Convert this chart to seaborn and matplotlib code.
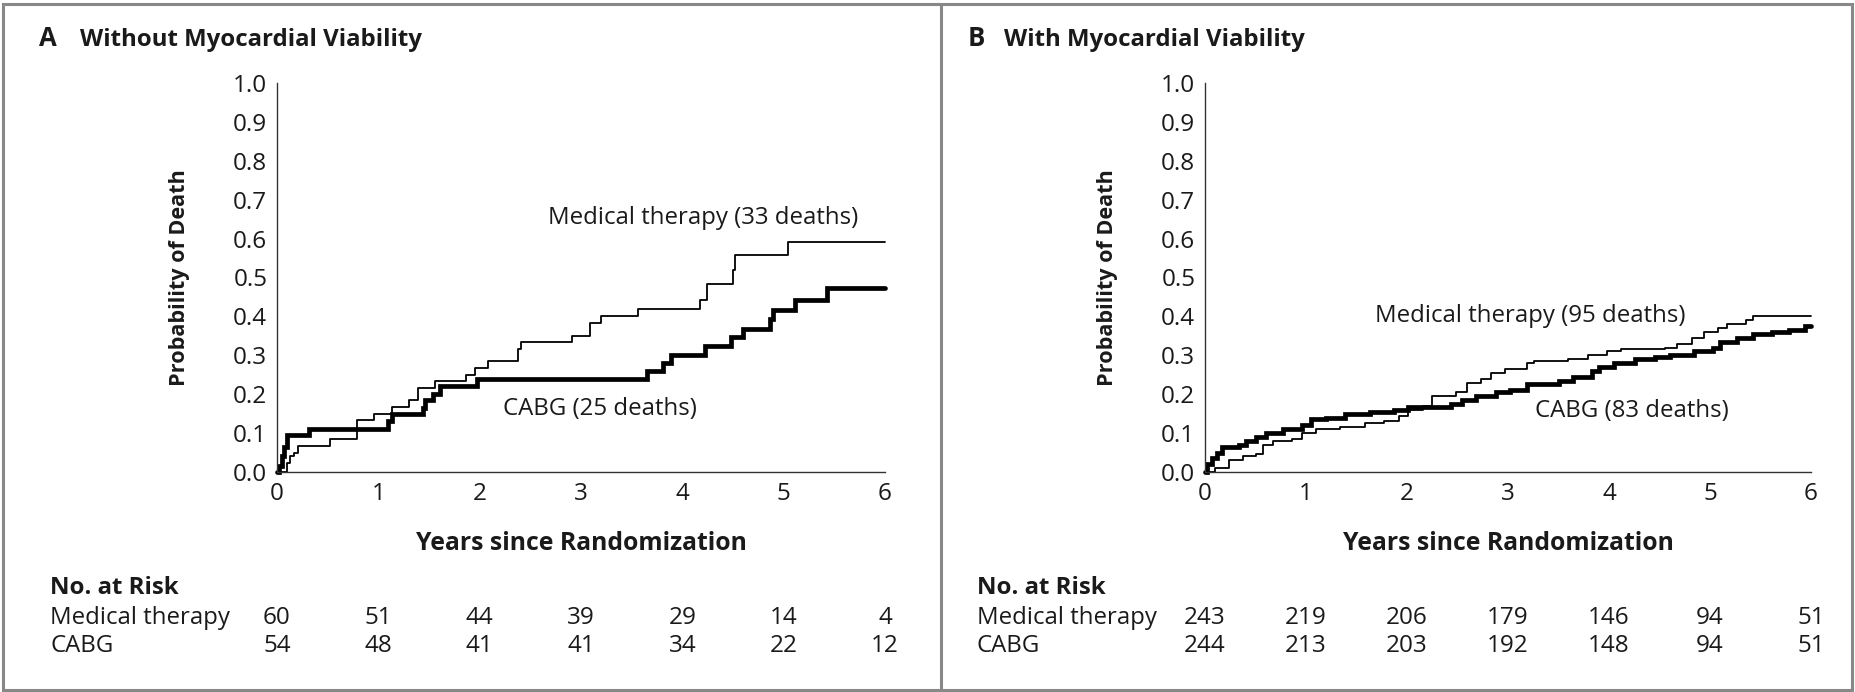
import matplotlib
matplotlib.use("Agg")
import matplotlib.pyplot as plt
import matplotlib.transforms as mtrans
from matplotlib.patches import Rectangle
from matplotlib.lines import Line2D
import seaborn as sns
import pandas as pd

# ---------------- data ----------------
years = [0, 1, 2, 3, 4, 5, 6]
yticks = [0.0, 0.1, 0.2, 0.3, 0.4, 0.5, 0.6, 0.7, 0.8, 0.9, 1.0]

# Panel A: without viability
a_med_t = [0, 0.10, 0.13, 0.17, 0.21, 0.52, 0.79, 0.96, 1.13, 1.30, 1.39, 1.56, 1.87, 1.95, 2.08,
           2.38, 2.41, 2.91, 3.09, 3.20, 3.56, 4.17, 4.24, 4.50, 4.52, 5.04, 6.0]
a_med_p = [0, 0.023, 0.040, 0.049, 0.067, 0.085, 0.134, 0.150, 0.167, 0.185, 0.216, 0.233, 0.250, 0.268, 0.285,
           0.316, 0.333, 0.350, 0.383, 0.400, 0.419, 0.441, 0.484, 0.520, 0.558, 0.591, 0.591]
a_cabg_t = [0, 0.02, 0.05, 0.07, 0.10, 0.32, 1.10, 1.13, 1.44, 1.46, 1.54, 1.61, 1.97, 3.65, 3.81,
            3.89, 4.22, 4.48, 4.60, 4.87, 4.89, 5.11, 5.43, 6.0]
a_cabg_p = [0, 0.015, 0.040, 0.065, 0.095, 0.110, 0.130, 0.150, 0.165, 0.185, 0.200, 0.220, 0.239, 0.260, 0.280,
            0.300, 0.323, 0.346, 0.368, 0.393, 0.417, 0.443, 0.473, 0.473]

# Panel B: with viability
b_med_t = [0, 0.10, 0.24, 0.38, 0.50, 0.57, 0.67, 0.86, 0.96, 1.10, 1.34, 1.58, 1.77, 1.92, 2.01, 2.16,
           2.25, 2.49, 2.59, 2.73, 2.83, 2.97, 3.19, 3.26, 3.59, 3.79, 3.98, 4.12, 4.55, 4.67, 4.82,
           4.94, 5.08, 5.17, 5.36, 5.43, 6.0]
b_med_p = [0, 0.010, 0.030, 0.040, 0.045, 0.070, 0.080, 0.085, 0.100, 0.110, 0.115, 0.125, 0.130, 0.145, 0.160, 0.170,
           0.195, 0.205, 0.230, 0.240, 0.255, 0.265, 0.280, 0.285, 0.290, 0.300, 0.310, 0.315, 0.320, 0.330, 0.345,
           0.360, 0.370, 0.380, 0.390, 0.400, 0.400]
b_cabg_t = [0, 0.02, 0.07, 0.12, 0.17, 0.34, 0.41, 0.50, 0.60, 0.77, 0.96, 1.05, 1.20, 1.39, 1.63, 1.87,
            2.01, 2.44, 2.54, 2.68, 2.88, 3.02, 3.19, 3.50, 3.64, 3.83, 3.90, 4.05, 4.26, 4.46, 4.60,
            4.84, 5.03, 5.10, 5.27, 5.43, 5.61, 5.78, 5.94, 6.0]
b_cabg_p = [0, 0.020, 0.035, 0.050, 0.065, 0.070, 0.080, 0.090, 0.100, 0.110, 0.120, 0.135, 0.140, 0.148, 0.155, 0.160,
            0.168, 0.175, 0.185, 0.195, 0.205, 0.210, 0.225, 0.235, 0.245, 0.260, 0.270, 0.280, 0.290, 0.295, 0.300,
            0.310, 0.320, 0.335, 0.345, 0.355, 0.360, 0.365, 0.375, 0.375]

a_risk_med = [60, 51, 44, 39, 29, 14, 4]
a_risk_cabg = [54, 48, 41, 41, 34, 22, 12]
b_risk_med = [243, 219, 206, 179, 146, 94, 51]
b_risk_cabg = [244, 213, 203, 192, 148, 94, 51]

panel_letters = ["A", "B"]
panel_titles = ["Without Myocardial Viability", "With Myocardial Viability"]
med_labels = ["Medical therapy (33 deaths)", "Medical therapy (95 deaths)"]
cabg_labels = ["CABG (25 deaths)", "CABG (83 deaths)"]
row_names = ["Medical therapy", "CABG"]

# ---------------- style ----------------
sns.set_style("white")
FONT = ["Open Sans", "DejaVu Sans"]
plt.rcParams["font.family"] = FONT
TXT = "#1a1a1a"
FS = 17.3        # regular text
FS_N = 17.5      # risk numbers
FS_T = 17.5      # tick labels

W, H = 1855, 692
fig = plt.figure(figsize=(W / 100, H / 100), dpi=100)


def fx(px):
    return px / W


def fy(py):
    return 1 - py / H


# borders
border_col = "#888888"
fig.add_artist(Rectangle((fx(3), fy(690)), fx(1852) - fx(3), fy(4) - fy(690), transform=fig.transFigure,
                         fill=False, edgecolor=border_col, linewidth=2.2))
fig.add_artist(Line2D([fx(941), fx(941)], [fy(4), fy(690)], transform=fig.transFigure,
                      color=border_col, linewidth=2.2))

panels = [
    dict(left=277, right=885, med=(a_med_t, a_med_p), cabg=(a_cabg_t, a_cabg_p),
         rmed=a_risk_med, rcabg=a_risk_cabg, letter_x=39, title_x=80, ylab_x=180, table_x=50,
         med_xy=(2.67, 0.653), cabg_xy=(2.23, 0.161)),
    dict(left=1205, right=1811, med=(b_med_t, b_med_p), cabg=(b_cabg_t, b_cabg_p),
         rmed=b_risk_med, rcabg=b_risk_cabg, letter_x=968, title_x=1004, ylab_x=1108, table_x=977,
         med_xy=(1.68, 0.401), cabg_xy=(3.27, 0.158)),
]

top_px, bot_px = 83, 472

for i, P in enumerate(panels):
    ax = fig.add_axes([fx(P["left"]), fy(bot_px), fx(P["right"]) - fx(P["left"]), fy(top_px) - fy(bot_px)])
    med_df = pd.DataFrame({"t": P["med"][0], "p": P["med"][1]})
    cabg_df = pd.DataFrame({"t": P["cabg"][0], "p": P["cabg"][1]})
    sns.lineplot(data=med_df, x="t", y="p", ax=ax, color="black", linewidth=1.3,
                 drawstyle="steps-post", estimator=None, sort=False, clip_on=False)
    sns.lineplot(data=cabg_df, x="t", y="p", ax=ax, color="black", linewidth=3.4,
                 drawstyle="steps-post", estimator=None, sort=False, clip_on=False,
                 solid_joinstyle="miter")
    ax.set_xlim(0, 6)
    ax.set_ylim(0, 1)
    ax.set_xticks(years)
    ax.set_yticks(yticks)
    ax.set_yticklabels([f"{v:.1f}" for v in yticks])
    ax.set_xlabel("")
    ax.set_ylabel("")
    for s in ["top", "right"]:
        ax.spines[s].set_visible(False)
    for s in ["left", "bottom"]:
        ax.spines[s].set_color("#333333")
        ax.spines[s].set_linewidth(1.0)
    ax.tick_params(axis="both", which="major", direction="out", length=6, width=1.0,
                   color="#333333", labelsize=FS_T, labelcolor=TXT, pad=1)
    ax.tick_params(axis="x", pad=1)
    ax.set_facecolor("none")

    # curve labels
    ax.text(P["med_xy"][0], P["med_xy"][1], med_labels[i], fontsize=FS, color=TXT,
            ha="left", va="center")
    ax.text(P["cabg_xy"][0], P["cabg_xy"][1], cabg_labels[i], fontsize=FS, color=TXT,
            ha="left", va="center")

    # titles
    fig.text(fx(P["letter_x"]), fy(39), panel_letters[i], fontsize=18.5, fontweight="bold",
             color=TXT, ha="left", va="center")
    fig.text(fx(P["title_x"]), fy(40), panel_titles[i], fontsize=17.3, fontweight="bold",
             color=TXT, ha="left", va="center")

    # axis labels
    fig.text(fx(P["ylab_x"]), fy(278), "Probability of Death", fontsize=15.6, fontweight="bold",
             color=TXT, rotation=90, ha="center", va="center")
    fig.text(fx((P["left"] + P["right"]) / 2), fy(544), "Years since Randomization", fontsize=17.8,
             fontweight="bold", color=TXT, ha="center", va="center")

    # risk table
    fig.text(fx(P["table_x"]), fy(588), "No. at Risk", fontsize=17.3, fontweight="bold",
             color=TXT, ha="left", va="center")
    fig.text(fx(P["table_x"]), fy(618), row_names[0], fontsize=FS, color=TXT, ha="left", va="center")
    fig.text(fx(P["table_x"]), fy(646), row_names[1], fontsize=FS, color=TXT, ha="left", va="center")
    trans = mtrans.blended_transform_factory(ax.transData, fig.transFigure)
    for yr, m, c in zip(years, P["rmed"], P["rcabg"]):
        ax.text(yr, fy(618), str(m), transform=trans, fontsize=FS_N, color=TXT,
                ha="center", va="center", clip_on=False)
        ax.text(yr, fy(646), str(c), transform=trans, fontsize=FS_N, color=TXT,
                ha="center", va="center", clip_on=False)

fig.savefig("out.png", dpi=100, facecolor="white")
